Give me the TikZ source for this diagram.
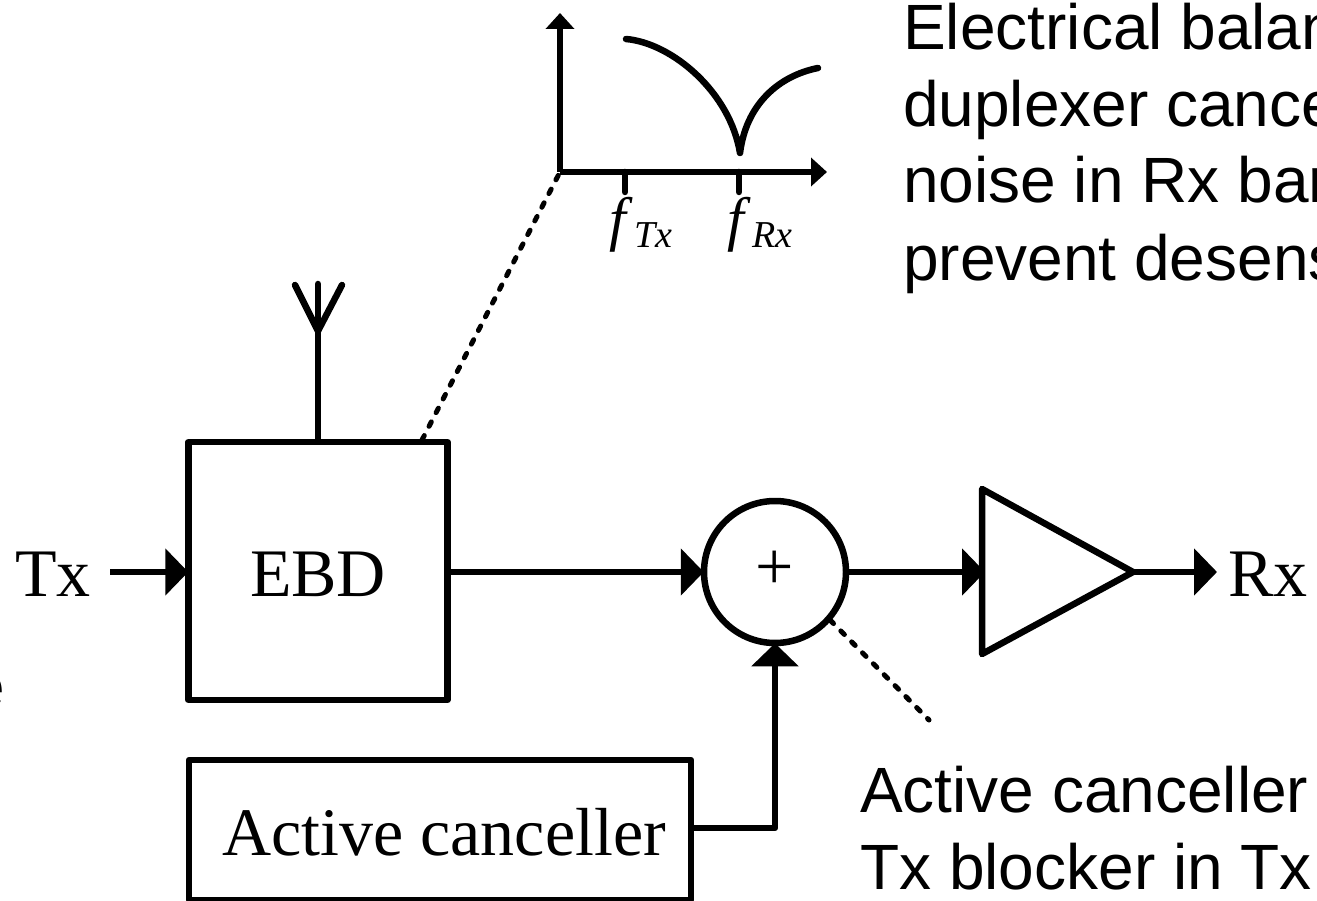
\documentclass[tikz,border=0pt]{standalone}
\usepackage{fontspec}
\setmainfont{Liberation Serif}
\newfontfamily\notefont{Liberation Sans}
\usetikzlibrary{arrows.meta}

\newcommand{\freqlabel}[1]{\fontsize{60}{60}\selectfont\textit{f}\hspace{2pt}\raisebox{-8pt}{\fontsize{38}{38}\selectfont\textit{#1}}}
\newcommand{\dropped}[2]{\raisebox{-#1pt}[0pt][0pt]{#2}}

\tikzset{
  block/.style={draw, line width=6.5pt, line join=round, minimum width=#1, inner sep=0pt, font=\fontsize{68}{68}\selectfont},
  port/.style={inner sep=0pt, font=\fontsize{68}{68}\selectfont},
  note/.style={inner sep=0pt, anchor=base west, font=\notefont\fontsize{64}{64}\selectfont},
  wire/.style={line width=6.5pt},
  feed/.style={wire, -{Triangle[length=23pt,width=46pt]}, shorten >=-3pt},
  axis/.style={wire, -{Triangle[length=16pt,width=28pt]}, shorten >=-1pt},
  leader/.style={line width=5pt, line cap=round, dash pattern=on 5pt off 10.4pt},
}

\begin{document}
\begin{tikzpicture}
  [x=1pt, y=-1pt]
  \useasboundingbox (0, 0) rectangle (1317, 901);
  \clip (0, 0) rectangle (1317, 901);

  \node[block=259pt, minimum height=258pt] (ebd) at (318, 571) {\dropped{25}{EBD}};
  \node[block=502pt, minimum height=140pt] (canc) at (440, 830) {\hspace{8pt}\dropped{25}{Active canceller}};
  \node[block=142pt, circle, minimum size=142pt] (sum) at (775, 572) {\dropped{17}{+}};
  \node[port] (tx) at (53, 574) {Tx};
  \node[port] (rx) at (1268, 574) {Rx};

  % amplifier
  \coordinate (ampt) at (982, 489);
  \coordinate (ampb) at (982, 654);
  \coordinate (ampo) at (1133, 572);
  \coordinate (ampi) at (982, 572);
  \draw[wire, line join=round] (ampt) -- (ampo) -- (ampb) -- cycle;

  \coordinate (txo) at (110, 572);
  \coordinate (ebdo) at (ebd.east |- sum);
  \coordinate (ebdi) at (ebd.west |- sum);
  \coordinate (rxi) at (1214, 572);
  \foreach \from/\to in {txo/ebdi,ebdo/sum.west,sum.east/ampi,ampo/rxi}
  \draw[feed] (\from) -- (\to);

  \coordinate (bend) at (775, 828);
  \draw[feed, line join=round] (canc.east |- bend) -- (bend) -- (sum.south);

  % antenna
  \coordinate (antt) at (318, 284);
  \coordinate (antl) at (295, 285);
  \coordinate (antr) at (342, 285);
  \coordinate (antm) at (318, 331);
  \draw[wire, line cap=round] (ebd.north) -- (antt);
  \draw[wire, line cap=round, line join=round] (antl) -- (antm) -- (antr);

  % response plot
  \coordinate (orig) at (560, 172);
  \coordinate (ytop) at (560, 14);
  \coordinate (xend) at (826, 172);
  \draw[axis] (orig) -- (ytop);
  \draw[axis] (orig) -- (xend);
  \coordinate (ftx) at (625, 192);
  \coordinate (frx) at (739, 192);
  \draw[wire, line cap=round] (ftx) -- (ftx |- orig);
  \draw[wire, line cap=round] (frx) -- (frx |- orig);
  \draw[wire, line cap=round, line join=round] (626, 39) .. controls (672, 43) and (730, 92) .. (740, 153)
    .. controls (746, 105) and (778, 76) .. (818, 68);
  \node[port] (ltx) at (641, 225) {\freqlabel{Tx}};
  \node[port] (lrx) at (760, 225) {\freqlabel{Rx}};

  % leaders
  \coordinate (lead1) at (422, 440);
  \coordinate (lead2) at (830, 620);
  \coordinate (lead3) at (929, 720);
  \draw[leader] (lead1) -- (orig);
  \draw[leader] (lead2) -- (lead3);

  % notes
  \node[note] (n1) at (903, 50) {Electrical balan};
  \node[note] (n2) at (903, 127) {duplexer cance};
  \node[note] (n3) at (903, 203) {noise in Rx ban};
  \node[note] (n4) at (903, 280) {prevent desens};
  \node[note] (n5) at (860, 812) {Active canceller};
  \node[note] (n6) at (860, 889) {Tx blocker in Tx};
  \node[note, anchor=base east] (n7) at (5, 708) {e};
\end{tikzpicture}
\end{document}
